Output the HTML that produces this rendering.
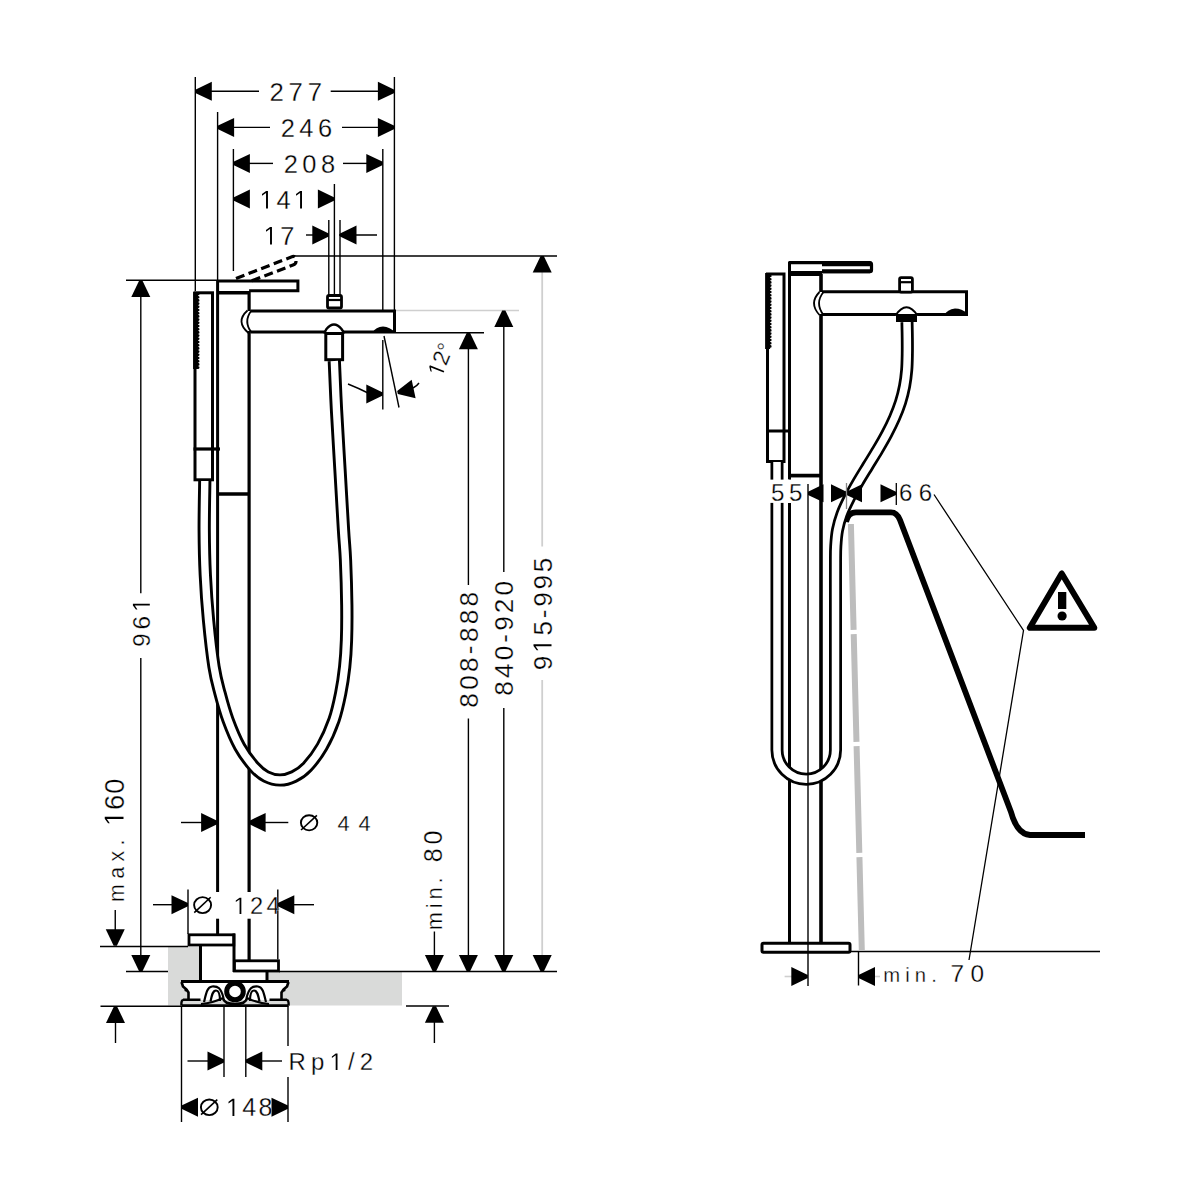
<!DOCTYPE html>
<html><head><meta charset="utf-8"><style>
html,body{margin:0;padding:0;background:#fff;width:1200px;height:1200px;overflow:hidden}
svg{display:block}
text{white-space:pre;font-family:"Liberation Sans",sans-serif;stroke:#fff;stroke-width:0.3px}
</style></head><body>
<svg width="1200" height="1200" viewBox="0 0 1200 1200">
<rect width="1200" height="1200" fill="#fff"/>
<path d="M168 947 H200 V980 H267 V972 H402 V1005.5 H168 Z" fill="#d9dad9"/>
<line x1="195.3" y1="77" x2="195.3" y2="291" stroke="#000" stroke-width="1.4" stroke-linecap="butt"/>
<line x1="217.6" y1="112" x2="217.6" y2="281" stroke="#000" stroke-width="1.4" stroke-linecap="butt"/>
<line x1="233.4" y1="149" x2="233.4" y2="271" stroke="#000" stroke-width="1.4" stroke-linecap="butt"/>
<line x1="394.4" y1="77" x2="394.4" y2="311" stroke="#000" stroke-width="1.4" stroke-linecap="butt"/>
<line x1="382.8" y1="149" x2="382.8" y2="332" stroke="#000" stroke-width="1.4" stroke-linecap="butt"/>
<line x1="334.4" y1="184" x2="334.4" y2="295" stroke="#000" stroke-width="1.4" stroke-linecap="butt"/>
<line x1="328.8" y1="220" x2="328.8" y2="295" stroke="#000" stroke-width="1.4" stroke-linecap="butt"/>
<line x1="340" y1="220" x2="340" y2="295" stroke="#000" stroke-width="1.4" stroke-linecap="butt"/>
<line x1="210" y1="91.3" x2="259" y2="91.3" stroke="#000" stroke-width="1.4" stroke-linecap="butt"/>
<line x1="330.7" y1="91.3" x2="380" y2="91.3" stroke="#000" stroke-width="1.4" stroke-linecap="butt"/>
<polygon points="195.3,89.7 211.8,81.8 211.8,100.8 195.3,92.9" fill="#000"/>
<polygon points="394.4,92.9 377.9,100.8 377.9,81.8 394.4,89.7" fill="#000"/>
<text x="269.41 288.55 307.69" y="100.7" font-size="25.73" fill="#000" >277</text>
<line x1="232" y1="127.4" x2="270" y2="127.4" stroke="#000" stroke-width="1.4" stroke-linecap="butt"/>
<line x1="342" y1="127.4" x2="380" y2="127.4" stroke="#000" stroke-width="1.4" stroke-linecap="butt"/>
<polygon points="217.6,125.8 234.1,117.9 234.1,136.9 217.6,129" fill="#000"/>
<polygon points="394.4,129 377.9,136.9 377.9,117.9 394.4,125.8" fill="#000"/>
<text x="280.72 299.35 317.97" y="136.5" font-size="25.44" fill="#000" >246</text>
<line x1="248" y1="163.4" x2="273" y2="163.4" stroke="#000" stroke-width="1.4" stroke-linecap="butt"/>
<line x1="343" y1="163.4" x2="368" y2="163.4" stroke="#000" stroke-width="1.4" stroke-linecap="butt"/>
<polygon points="233.4,161.8 249.9,153.9 249.9,172.9 233.4,165" fill="#000"/>
<polygon points="382.8,165 366.3,172.9 366.3,153.9 382.8,161.8" fill="#000"/>
<text x="283.72 302.34 320.96" y="172.5" font-size="25.44" fill="#000" >208</text>
<polygon points="233.4,197.4 249.9,189.5 249.9,208.5 233.4,200.6" fill="#000"/>
<polygon points="334.4,200.6 317.9,208.5 317.9,189.5 334.4,197.4" fill="#000"/>
<text x="259.45 276.47 293.49" y="208.5" font-size="25.44" fill="#000" > 4 </text><path d="M530 0 L530 1250 L205 1030 L205 1160 L535 1409 L685 1409 L685 0 Z" fill="#000" transform="translate(259.45 208.5) scale(0.01242 -0.01242)"/><path d="M530 0 L530 1250 L205 1030 L205 1160 L535 1409 L685 1409 L685 0 Z" fill="#000" transform="translate(293.49 208.5) scale(0.01242 -0.01242)"/>
<line x1="306" y1="235" x2="314" y2="235" stroke="#000" stroke-width="1.4" stroke-linecap="butt"/>
<line x1="339" y1="235" x2="377" y2="235" stroke="#000" stroke-width="1.4" stroke-linecap="butt"/>
<polygon points="328.8,236.6 312.3,244.5 312.3,225.5 328.8,233.4" fill="#000"/>
<polygon points="340,233.4 356.5,225.5 356.5,244.5 340,236.6" fill="#000"/>
<text x="263.45 280.13" y="244.5" font-size="25.44" fill="#000" > 7</text><path d="M530 0 L530 1250 L205 1030 L205 1160 L535 1409 L685 1409 L685 0 Z" fill="#000" transform="translate(263.45 244.5) scale(0.01242 -0.01242)"/>
<line x1="295" y1="256" x2="557" y2="256" stroke="#000" stroke-width="1.4" stroke-linecap="butt"/>
<line x1="396" y1="310.5" x2="519" y2="310.5" stroke="#cfcfcf" stroke-width="1.6" stroke-linecap="butt"/>
<line x1="396" y1="332.8" x2="484" y2="332.8" stroke="#000" stroke-width="1.4" stroke-linecap="butt"/>
<line x1="542.2" y1="270" x2="542.2" y2="546.5" stroke="#cfcfcf" stroke-width="1.8" stroke-linecap="butt"/>
<line x1="542.2" y1="680" x2="542.2" y2="958" stroke="#cfcfcf" stroke-width="1.8" stroke-linecap="butt"/>
<polygon points="543.8,256 551.7,272.5 532.7,272.5 540.6,256" fill="#000"/>
<polygon points="540.6,971.4 532.7,954.9 551.7,954.9 543.8,971.4" fill="#000"/>
<g transform="translate(551.5 669) rotate(-90)"><text x="-1.23 16.09 33.41 50.73 62.21 79.53 96.85" y="0" font-size="26.16" fill="#000">9 5-995</text><path d="M530 0 L530 1250 L205 1030 L205 1160 L535 1409 L685 1409 L685 0 Z" fill="#000" transform="translate(16.09 0) scale(0.01278 -0.01278)"/></g>
<line x1="503.8" y1="325" x2="503.8" y2="572" stroke="#000" stroke-width="1.4" stroke-linecap="butt"/>
<line x1="503.8" y1="708" x2="503.8" y2="958" stroke="#000" stroke-width="1.4" stroke-linecap="butt"/>
<polygon points="505.4,310.5 513.3,327 494.3,327 502.2,310.5" fill="#000"/>
<polygon points="502.2,971.4 494.3,954.9 513.3,954.9 505.4,971.4" fill="#000"/>
<g transform="translate(513 694.5) rotate(-90)"><text x="-1.14 16.52 34.18 51.84 63.66 81.31 98.97" y="0" font-size="26.16" fill="#000">840-920</text></g>
<line x1="468.4" y1="348" x2="468.4" y2="585" stroke="#000" stroke-width="1.4" stroke-linecap="butt"/>
<line x1="468.4" y1="718.5" x2="468.4" y2="958" stroke="#000" stroke-width="1.4" stroke-linecap="butt"/>
<polygon points="470,332.8 477.9,349.3 458.9,349.3 466.8,332.8" fill="#000"/>
<polygon points="466.8,971.4 458.9,954.9 477.9,954.9 470,971.4" fill="#000"/>
<g transform="translate(477.7 706.5) rotate(-90)"><text x="-1.14 16.71 34.55 52.39 64.4 82.24 100.09" y="0" font-size="26.16" fill="#000">808-888</text></g>
<line x1="434.4" y1="931.5" x2="434.4" y2="958" stroke="#000" stroke-width="1.4" stroke-linecap="butt"/>
<polygon points="432.8,971.4 424.9,954.9 443.9,954.9 436,971.4" fill="#000"/>
<g transform="translate(442.1 861.1) rotate(-90)"><text x="-1.09 16.67" y="0" font-size="25" fill="#000">80</text></g>
<g transform="translate(442.1 928.9) rotate(-90)"><text x="-1.45 20.62 29.4 45.44" y="0" font-size="21.77" fill="#000">min.</text></g>
<line x1="406" y1="1006" x2="449" y2="1006" stroke="#000" stroke-width="1.4" stroke-linecap="butt"/>
<polygon points="436,1006.2 443.9,1022.7 424.9,1022.7 432.8,1006.2" fill="#000"/>
<line x1="434.4" y1="1020" x2="434.4" y2="1043" stroke="#000" stroke-width="1.4" stroke-linecap="butt"/>
<line x1="279" y1="971.5" x2="557" y2="971.5" stroke="#000" stroke-width="1.4" stroke-linecap="butt"/>
<line x1="126" y1="971.5" x2="168" y2="971.5" stroke="#000" stroke-width="1.4" stroke-linecap="butt"/>
<line x1="100" y1="946.5" x2="188" y2="946.5" stroke="#000" stroke-width="1.4" stroke-linecap="butt"/>
<line x1="100.5" y1="1006.2" x2="181" y2="1006.2" stroke="#000" stroke-width="1.4" stroke-linecap="butt"/>
<line x1="126" y1="280.3" x2="218" y2="280.3" stroke="#000" stroke-width="1.4" stroke-linecap="butt"/>
<line x1="140.8" y1="294" x2="140.8" y2="593.3" stroke="#000" stroke-width="1.4" stroke-linecap="butt"/>
<line x1="140.8" y1="657.9" x2="140.8" y2="958" stroke="#000" stroke-width="1.4" stroke-linecap="butt"/>
<polygon points="142.4,280.5 150.3,297 131.3,297 139.2,280.5" fill="#000"/>
<polygon points="139.2,971.4 131.3,954.9 150.3,954.9 142.4,971.4" fill="#000"/>
<g transform="translate(149.8 645.8) rotate(-90)"><text x="-1.15 16.34 33.83" y="0" font-size="24.56" fill="#000">96 </text><path d="M530 0 L530 1250 L205 1030 L205 1160 L535 1409 L685 1409 L685 0 Z" fill="#000" transform="translate(33.83 0) scale(0.01199 -0.01199)"/></g>
<line x1="115.25" y1="910" x2="115.25" y2="931" stroke="#000" stroke-width="1.4" stroke-linecap="butt"/>
<polygon points="113.65,945.8 105.75,929.3 124.75,929.3 116.85,945.8" fill="#000"/>
<g transform="translate(123.5 823.25) rotate(-90)"><text x="-2.73 13.34 29.41" y="0" font-size="27.25" fill="#000"> 60</text><path d="M530 0 L530 1250 L205 1030 L205 1160 L535 1409 L685 1409 L685 0 Z" fill="#000" transform="translate(-2.73 0) scale(0.01331 -0.01331)"/></g>
<g transform="translate(123.5 900.5) rotate(-90)"><text x="-1.41 21.73 38.98 55.03" y="0" font-size="21.29" fill="#000">max.</text></g>
<polygon points="117.1,1006.4 125,1022.9 106,1022.9 113.9,1006.4" fill="#000"/>
<line x1="115.5" y1="1020" x2="115.5" y2="1043" stroke="#000" stroke-width="1.4" stroke-linecap="butt"/>
<line x1="181" y1="822.5" x2="203" y2="822.5" stroke="#000" stroke-width="1.4" stroke-linecap="butt"/>
<line x1="264" y1="822.5" x2="288.3" y2="822.5" stroke="#000" stroke-width="1.4" stroke-linecap="butt"/>
<polygon points="217.6,824.1 201.1,832 201.1,813 217.6,820.9" fill="#000"/>
<polygon points="249.1,820.9 265.6,813 265.6,832 249.1,824.1" fill="#000"/>
<ellipse cx="309.1" cy="822.8" rx="8.2" ry="7.6" stroke="#000" stroke-width="1.9" fill="none"/><line x1="301.06" y1="830.02" x2="316.89" y2="815.35" stroke="#000" stroke-width="1.6" stroke-linecap="butt"/>
<text x="337.5 358.51" y="830.5" font-size="21.8" fill="#000" >44</text>
<line x1="153" y1="904.7" x2="174" y2="904.7" stroke="#000" stroke-width="1.4" stroke-linecap="butt"/>
<line x1="292" y1="904.7" x2="314" y2="904.7" stroke="#000" stroke-width="1.4" stroke-linecap="butt"/>
<polygon points="188,906.3 171.5,914.2 171.5,895.2 188,903.1" fill="#000"/>
<polygon points="277.8,903.1 294.3,895.2 294.3,914.2 277.8,906.3" fill="#000"/>
<line x1="188" y1="889.5" x2="188" y2="934" stroke="#000" stroke-width="1.4" stroke-linecap="butt"/>
<line x1="277.8" y1="889.5" x2="277.8" y2="959.5" stroke="#000" stroke-width="1.4" stroke-linecap="butt"/>
<ellipse cx="202.6" cy="905.1" rx="8.5" ry="8" stroke="#000" stroke-width="1.9" fill="none"/><line x1="194.27" y1="912.7" x2="210.67" y2="897.26" stroke="#000" stroke-width="1.6" stroke-linecap="butt"/>
<text x="233.43 249.97 266.52" y="914" font-size="23.69" fill="#000" > 24</text><path d="M530 0 L530 1250 L205 1030 L205 1160 L535 1409 L685 1409 L685 0 Z" fill="#000" transform="translate(233.43 914) scale(0.01157 -0.01157)"/>
<line x1="181.5" y1="1006" x2="181.5" y2="1122" stroke="#000" stroke-width="1.4" stroke-linecap="butt"/>
<line x1="224" y1="1006" x2="224" y2="1077" stroke="#000" stroke-width="1.4" stroke-linecap="butt"/>
<line x1="245.8" y1="1006" x2="245.8" y2="1077" stroke="#000" stroke-width="1.4" stroke-linecap="butt"/>
<line x1="288" y1="1006" x2="288" y2="1046" stroke="#000" stroke-width="1.4" stroke-linecap="butt"/>
<line x1="288" y1="1077" x2="288" y2="1122" stroke="#000" stroke-width="1.4" stroke-linecap="butt"/>
<line x1="187.5" y1="1061" x2="208" y2="1061" stroke="#000" stroke-width="1.4" stroke-linecap="butt"/>
<line x1="260" y1="1061" x2="282" y2="1061" stroke="#000" stroke-width="1.4" stroke-linecap="butt"/>
<polygon points="224,1062.6 207.5,1070.5 207.5,1051.5 224,1059.4" fill="#000"/>
<polygon points="245.8,1059.4 262.3,1051.5 262.3,1070.5 245.8,1062.6" fill="#000"/>
<text x="288.43 310.95 329.48 348.01 359.87" y="1070" font-size="23.98" fill="#000" >Rp /2</text><path d="M530 0 L530 1250 L205 1030 L205 1160 L535 1409 L685 1409 L685 0 Z" fill="#000" transform="translate(329.48 1070) scale(0.01171 -0.01171)"/>
<polygon points="181.5,1105.6 198,1097.7 198,1116.7 181.5,1108.8" fill="#000"/>
<polygon points="288,1108.8 271.5,1116.7 271.5,1097.7 288,1105.6" fill="#000"/>
<ellipse cx="209.3" cy="1107.3" rx="8.4" ry="7.8" stroke="#000" stroke-width="1.9" fill="none"/><line x1="201.07" y1="1114.71" x2="217.28" y2="1099.66" stroke="#000" stroke-width="1.6" stroke-linecap="butt"/>
<text x="226 242.24 258.48" y="1116" font-size="25" fill="#000" > 48</text><path d="M530 0 L530 1250 L205 1030 L205 1160 L535 1409 L685 1409 L685 0 Z" fill="#000" transform="translate(226 1116) scale(0.01221 -0.01221)"/>
<line x1="217.6" y1="281" x2="217.6" y2="892" stroke="#000" stroke-width="3" stroke-linecap="butt"/>
<line x1="217.6" y1="918.7" x2="217.6" y2="934" stroke="#000" stroke-width="3" stroke-linecap="butt"/>
<line x1="249.1" y1="292" x2="249.1" y2="311" stroke="#000" stroke-width="3.2" stroke-linecap="butt"/>
<line x1="249.1" y1="331" x2="249.1" y2="892" stroke="#000" stroke-width="3.2" stroke-linecap="butt"/>
<line x1="249.1" y1="918.7" x2="249.1" y2="960" stroke="#000" stroke-width="3.2" stroke-linecap="butt"/>
<line x1="218" y1="494" x2="249" y2="494" stroke="#000" stroke-width="3.5" stroke-linecap="butt"/>
<path d="M217.6 281.1 H297.9 V290.7 H249.1 M217.6 292.5 H249.1" stroke="#000" stroke-width="3" fill="none" />
<path d="M217.6 292.7 H249.1" stroke="#000" stroke-width="3.5" fill="none" />
<path d="M236 278.5 L292.5 256.5 Q296 256 296 259.5 V261.5 Q296 264 293 265 L250 281.5" stroke="#000" stroke-width="3.2" fill="none" stroke-dasharray="9 4.5"/>
<path d="M250.5 311 H394.5 V332 H250.5" stroke="#000" stroke-width="3" fill="#fff" />
<path d="M247.5 310.5 Q235 321.5 248.5 333 M251.5 310.5 Q243 321.5 251.5 332.5" stroke="#000" stroke-width="1.8" fill="none" />
<rect x="327.5" y="295.5" width="14" height="12.5" stroke="#000" stroke-width="2.8" fill="#fff" rx="1.5"/>
<line x1="327.5" y1="300" x2="341.5" y2="300" stroke="#000" stroke-width="2.2" stroke-linecap="butt"/>
<path d="M372 333 Q376 326.5 383 326.5 Q390 327 395 332.5 Z" fill="#000"/>
<path d="M324 333.5 L326.5 329 Q334 320 341.5 329 L344.5 333.5" stroke="#000" stroke-width="2.4" fill="#fff" />
<rect x="325.8" y="333.5" width="16.8" height="26.2" stroke="#000" stroke-width="3" fill="#fff" rx="0"/>
<rect x="195" y="292.8" width="17.5" height="187" stroke="#000" stroke-width="3" fill="#fff" rx="0"/>
<line x1="195.6" y1="292" x2="195.6" y2="369" stroke="#000" stroke-width="5" stroke-linecap="butt"/>
<path d="M198.2 294 V368" stroke="#000" stroke-width="2.6" stroke-dasharray="0 3.2" stroke-linecap="round"/>
<line x1="193.5" y1="449" x2="220" y2="449" stroke="#000" stroke-width="3.2" stroke-linecap="butt"/>
<path d="M204.8 481 C204.7 489.17 204.12 514.33 204.2 530 C204.28 545.67 204.58 560 205.3 575 C206.02 590 207.05 604.72 208.5 620 C209.95 635.28 212.08 654.48 214 666.7 C215.92 678.92 217.67 684.42 220 693.3 C222.33 702.18 224.72 711.1 228 720 C231.28 728.9 235.37 738.92 239.7 746.7 C244.03 754.48 249.62 761.73 254 766.7 C258.38 771.67 261.67 774.28 266 776.5 C270.33 778.72 275.33 780 280 780 C284.67 780 289.45 778.72 294 776.5 C298.55 774.28 302.63 771.67 307.3 766.7 C311.97 761.73 317.55 754.48 322 746.7 C326.45 738.92 330.88 728.9 334 720 C337.12 711.1 338.92 702.18 340.7 693.3 C342.48 684.42 343.73 675.58 344.7 666.7 C345.67 657.82 346.15 650.28 346.5 640 C346.85 629.72 346.97 618.33 346.8 605 C346.63 591.67 346.05 572.5 345.5 560 C344.95 547.5 344.42 545 343.5 530 C342.58 515 341.17 490 340 470 C338.83 450 337.45 428.17 336.5 410 C335.55 391.83 334.67 369.17 334.3 361" stroke="#000" stroke-width="13.2" fill="none" />
<path d="M204.8 481 C204.7 489.17 204.12 514.33 204.2 530 C204.28 545.67 204.58 560 205.3 575 C206.02 590 207.05 604.72 208.5 620 C209.95 635.28 212.08 654.48 214 666.7 C215.92 678.92 217.67 684.42 220 693.3 C222.33 702.18 224.72 711.1 228 720 C231.28 728.9 235.37 738.92 239.7 746.7 C244.03 754.48 249.62 761.73 254 766.7 C258.38 771.67 261.67 774.28 266 776.5 C270.33 778.72 275.33 780 280 780 C284.67 780 289.45 778.72 294 776.5 C298.55 774.28 302.63 771.67 307.3 766.7 C311.97 761.73 317.55 754.48 322 746.7 C326.45 738.92 330.88 728.9 334 720 C337.12 711.1 338.92 702.18 340.7 693.3 C342.48 684.42 343.73 675.58 344.7 666.7 C345.67 657.82 346.15 650.28 346.5 640 C346.85 629.72 346.97 618.33 346.8 605 C346.63 591.67 346.05 572.5 345.5 560 C344.95 547.5 344.42 545 343.5 530 C342.58 515 341.17 490 340 470 C338.83 450 337.45 428.17 336.5 410 C335.55 391.83 334.67 369.17 334.3 361" stroke="#fff" stroke-width="7.4" fill="none" />
<rect x="189" y="934.8" width="44.8" height="10.2" stroke="#000" stroke-width="2.8" fill="#fff" rx="0"/>
<line x1="200.5" y1="946" x2="200.5" y2="980" stroke="#000" stroke-width="3" stroke-linecap="butt"/>
<line x1="234" y1="933.5" x2="234" y2="972" stroke="#000" stroke-width="3" stroke-linecap="butt"/>
<rect x="234.5" y="960.8" width="44" height="10.2" stroke="#000" stroke-width="2.8" fill="#fff" rx="0"/>
<line x1="267" y1="972" x2="267" y2="980" stroke="#000" stroke-width="3" stroke-linecap="butt"/>
<path d="M181 981 H289 L288 986 L285 989 L282 992 V1000 H188 V992 L185 989 L182 986 Z" fill="#fff"/>
<path d="M181 981.5 H289" stroke="#000" stroke-width="3.2" fill="none" />
<path d="M181.5 982 L183 986.5 L186.5 989.5 L188.5 992.5 V999.5 M288.5 982 L287 986.5 L283.5 989.5 L281.5 992.5 V999.5" stroke="#000" stroke-width="2.6" fill="none" stroke-linejoin="round"/>
<circle cx="186" cy="990" r="1.6" fill="#000"/><circle cx="284" cy="990" r="1.6" fill="#000"/>
<path d="M183 999.8 H200.5 M269.5 999.8 H287 M181.5 1005.6 H288.5" stroke="#000" stroke-width="2.6" fill="none" />
<path d="M183 999.8 Q181 1000.5 181.5 1005.6 M287 999.8 Q289 1000.5 288.5 1005.6" stroke="#000" stroke-width="2.4" fill="none" />
<path d="M204 1002 C206 994 207 987 212 986.5 C218 986 221 988 223.5 998 M210.5 1001.5 C212 994 213 990.5 216 990.5 C219 990.5 220 995 220 1001" stroke="#000" stroke-width="2.2" fill="none" />
<path d="M266 1002 C264 994 263 987 258 986.5 C252 986 249 988 246.5 998 M259.5 1001.5 C258 994 257 990.5 254 990.5 C251 990.5 250 995 250 1001" stroke="#000" stroke-width="2.2" fill="none" />
<path d="M223 998 Q224 1004 235 1004 Q246 1004 247 998" stroke="#000" stroke-width="2.6" fill="none" />
<circle cx="235" cy="991.5" r="8.3" stroke="#000" stroke-width="5" fill="#fff"/>
<path d="M201 1004 Q213 1003 223 998 M269 1004 Q257 1003 247 998" stroke="#000" stroke-width="2" fill="none" />
<line x1="382.8" y1="340" x2="382.8" y2="409.5" stroke="#000" stroke-width="1.4" stroke-linecap="butt"/>
<line x1="384" y1="336" x2="399" y2="407.5" stroke="#000" stroke-width="1.4" stroke-linecap="butt"/>
<path d="M348 384 Q358 388 368 393" stroke="#000" stroke-width="1.4" fill="none" />
<polygon points="382.8,395.6 366.3,403.5 366.3,384.5 382.8,392.4" fill="#000"/>
<polygon points="397.17,390.93 411.66,379.78 415.61,398.36 397.83,394.07" fill="#000"/>
<path d="M413 388 Q417 386 419 383" stroke="#000" stroke-width="1.4" fill="none" />
<g transform="translate(440.5 359) rotate(-68)"><text x="-17.26 -4.96 7.34" y="8" font-size="22.53" fill="#000" > 2°</text><path d="M530 0 L530 1250 L205 1030 L205 1160 L535 1409 L685 1409 L685 0 Z" fill="#000" transform="translate(-17.26 8) scale(0.01100 -0.01100)"/></g>
<path d="M850.90 524.0 L853.61 629.8 M853.72 634.2 L856.47 741.8 M856.59 746.2 L859.31 852.8 M859.43 857.2 L861.80 950.0" stroke="#bdbdbd" stroke-width="6" fill="none"/>
<line x1="851" y1="951.5" x2="1100" y2="951.5" stroke="#000" stroke-width="1.4" stroke-linecap="butt"/>
<path d="M846 522 Q848 512.3 856 512.3 H891 Q897 512.3 900 520 L1011 812 Q1017 834 1030 835 H1085" stroke="#000" stroke-width="5.8" fill="none" stroke-linejoin="round"/>
<path d="M934 494.5 L1023.5 630.5 L969 960" stroke="#000" stroke-width="1.3" fill="none" />
<path d="M1061.7 573.5 L1029.8 627.8 H1094.3 Z" stroke="#000" stroke-width="6" fill="none" stroke-linejoin="round"/>
<rect x="1058" y="592" width="8.3" height="17" fill="#000"/>
<circle cx="1062.1" cy="616" r="4.6" fill="#000"/>
<line x1="789.5" y1="262" x2="789.5" y2="479.6" stroke="#000" stroke-width="3" stroke-linecap="butt"/>
<line x1="789.5" y1="502.9" x2="789.5" y2="943" stroke="#000" stroke-width="3" stroke-linecap="butt"/>
<line x1="821" y1="274" x2="821" y2="292" stroke="#000" stroke-width="3.6" stroke-linecap="butt"/>
<line x1="821" y1="314" x2="821" y2="943" stroke="#000" stroke-width="3.6" stroke-linecap="butt"/>
<line x1="789.5" y1="475.6" x2="821" y2="475.6" stroke="#000" stroke-width="3.7" stroke-linecap="butt"/>
<rect x="762" y="943.3" width="88" height="9" stroke="#000" stroke-width="3" fill="#fff" rx="1.5"/>
<path d="M788.5 262.6 H870 Q871.5 262.6 871.5 264.5 V270 Q871.5 271.6 870 271.6 H822" stroke="#000" stroke-width="3.2" fill="none" />
<path d="M822 265 H870" stroke="#000" stroke-width="2.6" fill="none" />
<path d="M822 271.3 H870" stroke="#000" stroke-width="4" fill="none" />
<line x1="788.5" y1="273.5" x2="822" y2="273.5" stroke="#000" stroke-width="5" stroke-linecap="butt"/>
<path d="M822 291.8 H966.5 V314.5 H822" stroke="#000" stroke-width="3" fill="#fff" />
<path d="M819.5 292 Q808.5 303.2 819.5 315 M823.5 292 Q814.5 303.2 823.5 315" stroke="#000" stroke-width="1.8" fill="none" />
<rect x="899.6" y="277.6" width="12.8" height="14.5" stroke="#000" stroke-width="2.8" fill="#fff" rx="1.5"/>
<line x1="899.6" y1="282.2" x2="912.4" y2="282.2" stroke="#000" stroke-width="2.2" stroke-linecap="butt"/>
<path d="M944.5 315 Q947 309.5 955 308.5 Q962 308.5 967 313.5 V315.5 Z" fill="#000"/>
<path d="M895.5 315.5 Q906.5 299 917.5 315.5" stroke="#000" stroke-width="2.2" fill="#fff" />
<rect x="897.5" y="315.5" width="18" height="5" stroke="#000" stroke-width="3" fill="#000" rx="0"/>
<rect x="767.5" y="274" width="16.5" height="187.5" stroke="#000" stroke-width="3" fill="#fff" rx="0"/>
<line x1="767.6" y1="273" x2="767.6" y2="349" stroke="#000" stroke-width="5" stroke-linecap="butt"/>
<path d="M770.3 276 V348" stroke="#000" stroke-width="2.6" stroke-dasharray="0 3.2" stroke-linecap="round"/>
<line x1="766" y1="431" x2="791" y2="431" stroke="#000" stroke-width="3" stroke-linecap="butt"/>
<path d="M907 322 C907.05 324.67 907.25 332.67 907.3 338 C907.35 343.33 907.4 348.67 907.3 354 C907.2 359.33 907.15 364.67 906.7 370 C906.25 375.33 905.62 380.67 904.6 386 C903.58 391.33 902.28 396.67 900.6 402 C898.92 407.33 896.82 412.67 894.5 418 C892.18 423.33 889.52 428.67 886.7 434 C883.88 439.33 880.75 444.67 877.6 450 C874.45 455.33 871.05 460.67 867.8 466 C864.55 471.33 861.18 476.67 858.1 482 C855.02 487.33 851.98 492.67 849.3 498 C846.62 503.33 843.97 508.67 842 514 C840.03 519.33 838.53 524.67 837.5 530 C836.47 535.33 836.13 540.67 835.8 546 C835.47 551.33 835.55 553 835.5 562 C835.45 571 835.5 593.67 835.5 600 L835.5 750 A29.25 29.25 0 0 1 777 750 L777 462" stroke="#000" stroke-width="13" fill="none" />
<path d="M907 322 C907.05 324.67 907.25 332.67 907.3 338 C907.35 343.33 907.4 348.67 907.3 354 C907.2 359.33 907.15 364.67 906.7 370 C906.25 375.33 905.62 380.67 904.6 386 C903.58 391.33 902.28 396.67 900.6 402 C898.92 407.33 896.82 412.67 894.5 418 C892.18 423.33 889.52 428.67 886.7 434 C883.88 439.33 880.75 444.67 877.6 450 C874.45 455.33 871.05 460.67 867.8 466 C864.55 471.33 861.18 476.67 858.1 482 C855.02 487.33 851.98 492.67 849.3 498 C846.62 503.33 843.97 508.67 842 514 C840.03 519.33 838.53 524.67 837.5 530 C836.47 535.33 836.13 540.67 835.8 546 C835.47 551.33 835.55 553 835.5 562 C835.45 571 835.5 593.67 835.5 600 L835.5 750 A29.25 29.25 0 0 1 777 750 L777 462" stroke="#fff" stroke-width="7.5" fill="none" />
<line x1="808" y1="484" x2="808" y2="986" stroke="#000" stroke-width="1.4" stroke-linecap="butt"/>
<rect x="765" y="479.6" width="24" height="23.3" fill="#fff"/>
<polygon points="808,491.7 823.5,484.3 823.5,502.3 808,494.9" fill="#000"/>
<polygon points="846.5,494.9 831,502.3 831,484.3 846.5,491.7" fill="#000"/>
<polygon points="846.5,491.7 862,484.3 862,502.3 846.5,494.9" fill="#000"/>
<line x1="846.5" y1="483" x2="846.5" y2="509" stroke="#888" stroke-width="1.3" stroke-linecap="butt"/>
<polygon points="896,494.9 880.5,502.3 880.5,484.3 896,491.7" fill="#000"/>
<line x1="896.3" y1="483" x2="896.3" y2="505" stroke="#000" stroke-width="1.3" stroke-linecap="butt"/>
<text x="771.03 789.09" y="500.6" font-size="24.13" fill="#000" >55</text>
<text x="899.07 918.64" y="500.6" font-size="24.13" fill="#000" >66</text>
<line x1="858.5" y1="951.5" x2="858.5" y2="985.5" stroke="#000" stroke-width="1.4" stroke-linecap="butt"/>
<line x1="784.6" y1="976.5" x2="792" y2="976.5" stroke="#cfcfcf" stroke-width="1.6" stroke-linecap="butt"/>
<line x1="875" y1="976.5" x2="880" y2="976.5" stroke="#cfcfcf" stroke-width="1.6" stroke-linecap="butt"/>
<polygon points="807.8,978.1 791.3,986 791.3,967 807.8,974.9" fill="#000"/>
<polygon points="858.5,974.9 875,967 875,986 858.5,978.1" fill="#000"/>
<text x="883.25 905.24 914.85 931.22" y="982" font-size="20.26" fill="#000" >min.</text>
<text x="950.55 970.57" y="982" font-size="24.42" fill="#000" >70</text>
</svg></body></html>
